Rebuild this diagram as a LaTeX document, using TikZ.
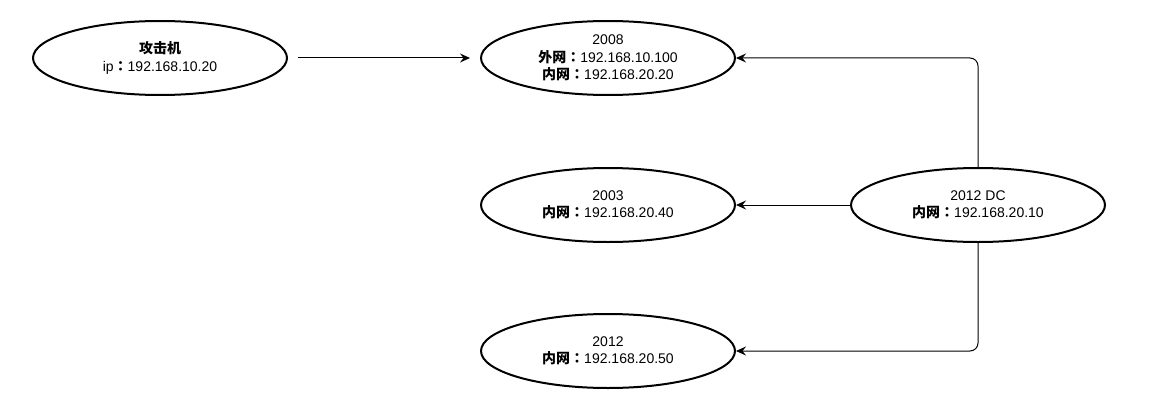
\documentclass[tikz,border=0pt]{standalone}
\usepackage{fontspec}
\setmainfont{Liberation Sans}
\newfontfamily\cjk{Noto Sans CJK SC}
\newfontfamily\cjkjp{Noto Sans CJK JP}
\usetikzlibrary{arrows.meta,shapes.geometric}
\newcommand{\zh}[1]{{\cjk\bfseries #1}}
\newcommand{\zhcolon}{{\cjkjp\bfseries ：}}

\begin{document}
\begin{tikzpicture}[x=1pt, y=-1pt,
    host/.style={draw, ellipse, line width=2pt, minimum width=254pt, minimum height=74pt,
      inner sep=0pt, align=center, font=\fontsize{14}{17.5}\selectfont},
    link/.style={-{Stealth[length=10pt,width=9pt,inset=3.5pt]}, line width=1pt}]
          \useasboundingbox (0,0) rectangle (1151,420);

          \node[host] (atk) at (160,58) {\zh{攻击机}\\ip\zhcolon192.168.10.20};
          \node[host] (n2008) at (608,58) {2008\\\zh{外网}\zhcolon192.168.10.100\\\zh{内网}\zhcolon192.168.20.20};
          \node[host] (n2003) at (608,205) {2003\\\zh{内网}\zhcolon192.168.20.40};
          \node[host] (n2012) at (608,351) {2012\\\zh{内网}\zhcolon192.168.20.50};
          \node[host] (dc) at (978,205) {2012 DC\\\zh{内网}\zhcolon192.168.20.10};

          \path[link, shorten <=10pt, shorten >=10pt] (atk) edge (n2008);
          \path[link] (dc) edge (n2003);

          \draw[link, rounded corners=8pt] (dc.north) |- (n2008.east);
          \draw[link, rounded corners=8pt] (dc.south) |- (n2012.east);
        \end{tikzpicture}
\end{document}
